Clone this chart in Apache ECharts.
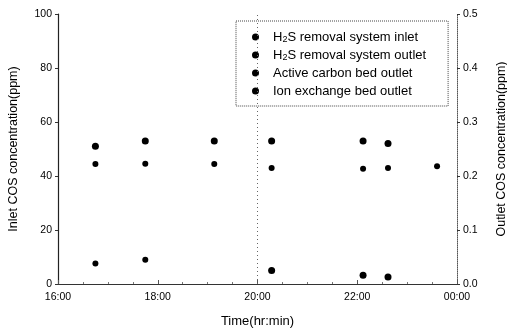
<!DOCTYPE html>
<html>
<head>
<meta charset="utf-8">
<script src="https://cdn.jsdelivr.net/npm/echarts@6/dist/echarts.min.js"></script>
<style>
  html, body { margin: 0; padding: 0; background: #fff; }
  #chart { width: 507px; height: 332px; }
</style>
</head>
<body>
<div id="chart"></div>
<script>
// sample times (hh:mm) and values
const inletTimes = ['16:45', '17:45', '19:08', '20:17', '22:07', '22:37']
const inletPpm = [51, 53, 53, 53, 53, 52]

const h2sOutTimes = ['16:45', '17:45', '19:08', '20:17', '22:07', '22:37']
const h2sOutPpm = [44.4, 44.5, 44.4, 43, 42.7, 43]

const carbonTimes = ['20:17', '22:07', '22:37']
const carbonPpm = [0.025, 0.016, 0.013]

const ionTimes = ['16:45', '17:45', '23:36']
const ionPpm = [0.038, 0.045, 0.218]

const seriesNames = [
  'H2S removal system inlet',
  'H2S removal system outlet',
  'Active carbon bed outlet',
  'Ion exchange bed outlet'
]

const toHours = t => {
  const [h, m] = t.split(':').map(Number)
  return h + m / 60
}
const pairs = (times, vals) => times.map((t, i) => [toHours(t), vals[i]])

const font = 'Liberation Sans, Arial, sans-serif'
const ink = '#000'

const chart = echarts.init(document.getElementById('chart'))

const dotSeries = (name, data, yAxisIndex, size) => ({
  name,
  type: 'scatter',
  yAxisIndex,
  data,
  symbol: 'circle',
  symbolSize: size,
  itemStyle: { color: ink, opacity: 1 },
  z: 5
})

const option = {
  animation: false,
  backgroundColor: '#fff',
  textStyle: { fontFamily: font, color: ink },
  grid: {
    left: 58,
    right: 50,
    top: 14,
    bottom: 48,
    outerBoundsMode: 'none'
  },
  legend: {
    orient: 'vertical',
    left: 236,
    top: 21,
    padding: [9, 22, 8, 16],
    itemWidth: 7,
    itemHeight: 7,
    itemGap: 4,
    icon: 'circle',
    borderColor: '#444',
    borderWidth: 1,
    borderType: 'dotted',
    itemStyle: { color: ink, opacity: 1 },
    data: seriesNames,
    formatter: name => name.replace('H2S', 'H{sub|2}S'),
    textStyle: {
      fontFamily: font,
      fontSize: 13,
      color: ink,
      lineHeight: 14,
      padding: [0, 0, 0, 9],
      rich: {
        sub: { fontSize: 9, fontFamily: font, color: ink, verticalAlign: 'bottom', lineHeight: 14 }
      }
    }
  },
  xAxis: [
    {
      type: 'value',
      min: 16,
      max: 24,
      interval: 2,
      name: 'Time(hr:min)',
      nameLocation: 'middle',
      nameGap: 31,
      nameTextStyle: { fontFamily: font, fontSize: 13, color: ink },
      axisLine: { show: true, lineStyle: { color: '#555', type: 'dotted', width: 1 } },
      axisTick: { show: true, inside: true, length: 4, lineStyle: { color: '#555' } },
      minorTick: { show: true, splitNumber: 4, length: 2, lineStyle: { color: '#777' } },
      splitLine: { show: false },
      axisLabel: {
        fontFamily: font,
        fontSize: 10.5,
        color: ink,
        margin: 8,
        formatter: v => String(v % 24).padStart(2, '0') + ':00'
      }
    },
    {
      type: 'value',
      position: 'top',
      min: 16,
      max: 24,
      axisLine: { show: true, lineStyle: { color: '#333', width: 1.2 } },
      axisTick: { show: false },
      axisLabel: { show: false },
      splitLine: { show: false }
    }
  ],
  yAxis: [
    {
      type: 'value',
      min: 0,
      max: 100,
      interval: 20,
      name: 'Inlet COS concentration(ppm)',
      nameLocation: 'middle',
      nameGap: 38,
      nameTextStyle: { fontFamily: font, fontSize: 12.5, color: ink },
      axisLine: { show: true, lineStyle: { color: '#222', width: 1.2 } },
      axisTick: { show: true, length: 3, lineStyle: { color: '#333' } },
      splitLine: { show: false },
      axisLabel: { fontFamily: font, fontSize: 10.5, color: ink, margin: 6 }
    },
    {
      type: 'value',
      position: 'right',
      min: 0,
      max: 0.5,
      interval: 0.1,
      name: 'Outlet COS concentration(ppm)',
      nameLocation: 'middle',
      nameGap: 38,
      nameTextStyle: { fontFamily: font, fontSize: 12.5, color: ink },
      axisLine: { show: true, lineStyle: { color: '#555', type: 'dotted', width: 1 } },
      axisTick: { show: true, length: 3, lineStyle: { color: '#333' } },
      splitLine: { show: false },
      axisLabel: {
        fontFamily: font,
        fontSize: 10.5,
        color: ink,
        margin: 6,
        formatter: v => v.toFixed(1)
      }
    }
  ],
  series: [
    Object.assign(dotSeries(seriesNames[0], pairs(inletTimes, inletPpm), 0, 7), {
      markLine: {
        silent: true,
        symbol: 'none',
        label: { show: false },
        lineStyle: { color: '#666', type: [1, 3], width: 1 },
        data: [{ xAxis: 20 }]
      }
    }),
    dotSeries(seriesNames[1], pairs(h2sOutTimes, h2sOutPpm), 0, 6),
    dotSeries(seriesNames[2], pairs(carbonTimes, carbonPpm), 1, 7),
    dotSeries(seriesNames[3], pairs(ionTimes, ionPpm), 1, 6)
  ]
}

chart.setOption(option)
window.addEventListener('resize', () => {
  chart.resize()
})
</script>
</body>
</html>
